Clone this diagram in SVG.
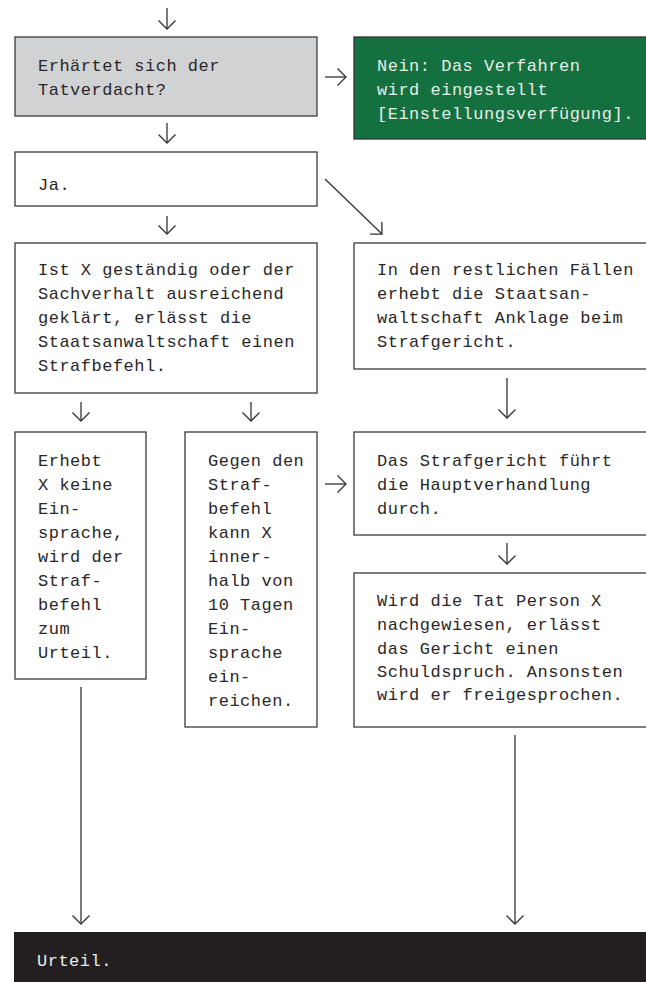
<svg xmlns="http://www.w3.org/2000/svg" width="646" height="982" viewBox="0 0 646 982">
<defs>
<marker id="ah" markerUnits="userSpaceOnUse" markerWidth="20" markerHeight="20" viewBox="-10 -10 20 20" refX="0" refY="0" orient="auto">
<path d="M-8.5,-8.5 L0,0 L-8.5,8.5" fill="none" stroke="#333" stroke-width="1.3"/>
</marker>
<style>
.box{fill:#fff;stroke:#3a3a3a;stroke-width:1.3}
.gray{fill:#d1d2d4;stroke:#3a3a3a;stroke-width:1.3}
.green{fill:#14703f;stroke:#333;stroke-width:1.3}
.black{fill:#231f20}
.t{font-family:"Liberation Mono","DejaVu Sans Mono",monospace;font-size:17px;letter-spacing:0.5px;fill:#2a2728}
.tl{font-family:"Liberation Mono","DejaVu Sans Mono",monospace;font-size:17px;letter-spacing:0.5px;fill:#e8ece9}
.c line{stroke:#333;stroke-width:1.3;fill:none;marker-end:url(#ah)}
</style>
</defs>
<rect width="646" height="982" fill="#fff"/>
<g id="n-tatverdacht">
<rect class="gray" x="15" y="37" width="302" height="79"/>
<text class="t" x="38" y="71">Erhärtet sich der</text>
<text class="t" x="38" y="95">Tatverdacht?</text>
</g>
<g id="n-nein">
<rect class="green" x="354" y="37" width="300" height="102"/>
<text class="tl" x="377" y="71">Nein: Das Verfahren</text>
<text class="tl" x="377" y="95">wird eingestellt</text>
<text class="tl" x="377" y="119">[Einstellungsverfügung].</text>
</g>
<g id="n-ja">
<rect class="box" x="15" y="152" width="302" height="54"/>
<text class="t" x="38" y="190">Ja.</text>
</g>
<g id="n-strafbefehl">
<rect class="box" x="15" y="243" width="302" height="150"/>
<text class="t" x="38" y="275">Ist X geständig oder der</text>
<text class="t" x="38" y="299">Sachverhalt ausreichend</text>
<text class="t" x="38" y="323">geklärt, erlässt die</text>
<text class="t" x="38" y="347">Staatsanwaltschaft einen</text>
<text class="t" x="38" y="371">Strafbefehl.</text>
</g>
<g id="n-anklage">
<rect class="box" x="354" y="243" width="300" height="126"/>
<text class="t" x="377" y="275">In den restlichen Fällen</text>
<text class="t" x="377" y="299">erhebt die Staatsan-</text>
<text class="t" x="377" y="323">waltschaft Anklage beim</text>
<text class="t" x="377" y="347">Strafgericht.</text>
</g>
<g id="n-keine-einsprache">
<rect class="box" x="15" y="432" width="131" height="247"/>
<text class="t" x="38" y="466">Erhebt</text>
<text class="t" x="38" y="490">X keine</text>
<text class="t" x="38" y="514">Ein-</text>
<text class="t" x="38" y="538">sprache,</text>
<text class="t" x="38" y="562">wird der</text>
<text class="t" x="38" y="586">Straf-</text>
<text class="t" x="38" y="610">befehl</text>
<text class="t" x="38" y="634">zum</text>
<text class="t" x="38" y="658">Urteil.</text>
</g>
<g id="n-einsprache">
<rect class="box" x="185" y="432" width="132" height="295"/>
<text class="t" x="208" y="466">Gegen den</text>
<text class="t" x="208" y="490">Straf-</text>
<text class="t" x="208" y="514">befehl</text>
<text class="t" x="208" y="538">kann X</text>
<text class="t" x="208" y="562">inner-</text>
<text class="t" x="208" y="586">halb von</text>
<text class="t" x="208" y="610">10 Tagen</text>
<text class="t" x="208" y="634">Ein-</text>
<text class="t" x="208" y="658">sprache</text>
<text class="t" x="208" y="682">ein-</text>
<text class="t" x="208" y="706">reichen.</text>
</g>
<g id="n-hauptverhandlung">
<rect class="box" x="354" y="432" width="300" height="103"/>
<text class="t" x="377" y="466">Das Strafgericht führt</text>
<text class="t" x="377" y="490">die Hauptverhandlung</text>
<text class="t" x="377" y="514">durch.</text>
</g>
<g id="n-schuldspruch">
<rect class="box" x="354" y="573" width="300" height="154"/>
<text class="t" x="377" y="606">Wird die Tat Person X</text>
<text class="t" x="377" y="630">nachgewiesen, erlässt</text>
<text class="t" x="377" y="654">das Gericht einen</text>
<text class="t" x="377" y="677">Schuldspruch. Ansonsten</text>
<text class="t" x="377" y="700">wird er freigesprochen.</text>
</g>
<g id="n-urteil">
<rect class="black" x="14" y="932" width="640" height="52"/>
<text class="tl" x="37" y="966">Urteil.</text>
</g>
<g id="connectors" class="c">
<line x1="167" y1="8" x2="167" y2="29"/>
<line x1="325" y1="77" x2="346" y2="77"/>
<line x1="167" y1="123" x2="167" y2="143"/>
<line x1="167" y1="216" x2="167" y2="234"/>
<line x1="325" y1="179" x2="382" y2="234"/>
<line x1="81" y1="402" x2="81" y2="421"/>
<line x1="251" y1="402" x2="251" y2="421"/>
<line x1="507" y1="378" x2="507" y2="418"/>
<line x1="325" y1="484" x2="346" y2="484"/>
<line x1="507" y1="543" x2="507" y2="564"/>
<line x1="81" y1="687" x2="81" y2="924"/>
<line x1="515" y1="735" x2="515" y2="924"/>
</g>
</svg>
